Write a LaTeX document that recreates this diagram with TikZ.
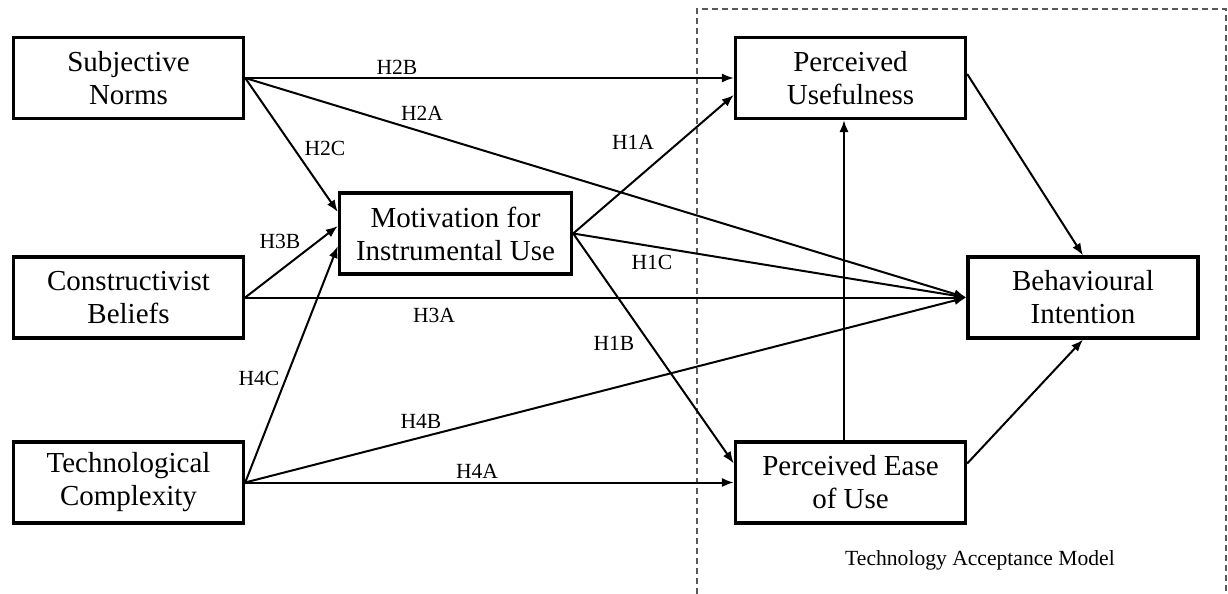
\documentclass[tikz,border=0pt]{standalone}
\usepackage{fontspec}
\setmainfont{Liberation Serif}
\usetikzlibrary{arrows.meta}
\begin{document}
\begin{tikzpicture}[x=.5pt,y=-.5pt, >={Latex[length=6pt,width=4.6pt]},
 box/.style={draw,line width=1.7pt,minimum width=115pt,minimum height=40.4pt,inner sep=0pt,align=center,font=\fontsize{14.5}{16.5}\selectfont},
 hyp/.style={font=\fontsize{10.8}{12}\selectfont,inner sep=0pt}]
\useasboundingbox (0,0) rectangle (1228,594);
\draw[black!65,line width=.6pt,dash pattern=on 3pt off 2pt] (697,594)--(697,9)--(1226,9)--(1226,594);
\path (128.5,78) node[box] (sn) {Subjective\\Norms}
 (128.5,297.5) node[box] (cb) {Constructivist\\Beliefs}
 (128.5,482.5) node[box] (tc) {Technological\\Complexity}
 (455.5,233.5) node[box,minimum width=116pt] (mu) {Motivation for\\Instrumental Use}
 (850.5,78) node[box] (pu) {Perceived\\Usefulness}
 (1083,297.5) node[box] (bi) {Behavioural\\Intention}
 (850.5,482.5) node[box] (pe) {Perceived Ease\\of Use};
\path ([yshift=10.75pt]mu.west) coordinate (mu2) ([yshift=3.75pt]mu.west) coordinate (mu3) ([yshift=-6.25pt]mu.west) coordinate (mu4)
 ([yshift=-8.5pt]pu.west) coordinate (pu1) ([yshift=9.5pt]pe.west) coordinate (pe1)
 ([xshift=-3.25pt]pe.north) coordinate (peN) ([xshift=-3.25pt]pu.south) coordinate (puS)
 ([yshift=2pt]pu.east) coordinate (puE) ([yshift=9.5pt]pe.east) coordinate (peE);
\foreach \d/\dd in {sn.east/pu.west, sn.east/bi.west, sn.east/mu2, cb.east/mu3, cb.east/bi.west, tc.east/mu4, tc.east/bi.west, tc.east/pe.west,
 mu.east/pu1, mu.east/bi.west, mu.east/pe1, peN/puS, puE/bi.north, peE/bi.south}
 \draw[->,line width=1pt] (\d) -- (\dd);
% hypotheses
\path (397,67) node[hyp] (h2b) {H2B} (422,113) node[hyp] (h2a) {H2A} (325,148) node[hyp] (h2c) {H2C}
 (280,241) node[hyp] (h3b) {H3B} (434,315) node[hyp] (h3a) {H3A}
 (259,378) node[hyp] (h4c) {H4C} (421,421) node[hyp] (h4b) {H4B} (477,471) node[hyp] (h4a) {H4A}
 (633,142) node[hyp] (h1a) {H1A} (652,262) node[hyp] (h1c) {H1C} (614,343) node[hyp] (h1b) {H1B}
 (980,565) node[hyp,anchor=base] (tam) {Technology Acceptance Model};
\end{tikzpicture}
\end{document}
